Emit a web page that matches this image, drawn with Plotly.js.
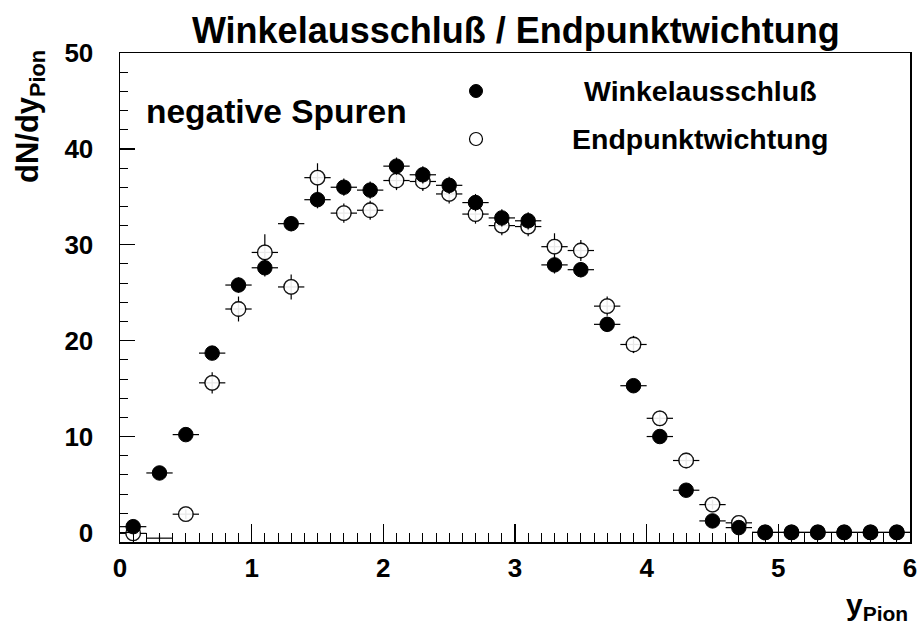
<!DOCTYPE html>
<html>
<head>
<meta charset="utf-8">
<script src="https://cdn.plot.ly/plotly-3.0.1.min.js"></script>
<style>html,body{margin:0;padding:0;background:#fff;}#chart{width:921px;height:627px;}</style>
</head>
<body>
<div id="chart"></div>
<script>
// rapidity bin centres
const yPion = [0.1,0.3,0.5,0.7,0.9,1.1,1.3,1.5,1.7,1.9,2.1,2.3,2.5,2.7,2.9,3.1,3.3,3.5,3.7,3.9,4.1,4.3,4.5,4.7,4.9,5.1,5.3,5.5,5.7,5.9];
// Winkelausschluß (filled)
const winkelVals = [0.6,6.2,10.2,18.7,25.8,27.6,32.2,34.7,36.0,35.7,38.2,37.3,36.2,34.4,32.8,32.5,27.9,27.4,21.7,15.3,10.0,4.4,1.2,0.5,0,0,0,0,0,0];
const winkelErr  = [0.3,0.4,0.5,0.7,0.8,0.9,0.8,0.9,0.9,0.9,0.9,0.9,0.9,0.9,0.9,0.9,0.9,0.8,0.8,0.6,0.5,0.4,0.3,0.2,0,0,0,0,0,0];
// Endpunktwichtung (open)
const endpVals = [-0.1,-0.6,1.9,15.6,23.3,29.2,25.6,37.0,33.3,33.6,36.7,36.6,35.3,33.2,32.0,31.9,29.8,29.4,23.6,19.6,11.9,7.5,2.9,1.0,0,0,0,0,0,0];
const endpErr  = [0.3,0.3,0.5,1.1,1.3,1.9,1.3,1.5,1.0,1.0,1.0,1.0,1.0,1.0,1.0,1.0,1.4,1.1,1.0,0.9,0.8,0.6,0.5,0.4,0,0,0,0,0,0];
const binHalfWidth = 0.1;

const titleText = 'Winkelausschluß / Endpunktwichtung';
const seriesNames = ['Winkelausschluß', 'Endpunktwichtung'];
const labelText = 'negative Spuren';
const xTitle = 'y<sub>Pion</sub>';
const yTitle = 'dN/dy<sub>Pion</sub>';

const FONT = 'Liberation Sans, Arial, Helvetica, sans-serif';
const MS = 14.5;

const errX = {type:'constant', value: binHalfWidth, color:'#000', thickness:1.2, width:0};
const openSizes = endpVals.map(v => v < -0.3 ? 0 : MS);
const openMarker = {symbol:'circle', size: openSizes, color:'#fff', line:{color:'#000', width:1.3}};

const traces = [
  { // open points: error bars
    x: yPion, y: endpVals, type:'scatter', mode:'markers', name: seriesNames[1],
    marker: openMarker,
    error_x: errX,
    error_y: {type:'data', array: endpErr, visible:true, color:'#000', thickness:1.2, width:0},
    showlegend:false
  },
  { // open points: markers on top of their own error bars
    x: yPion, y: endpVals, type:'scatter', mode:'markers', name: seriesNames[1],
    marker: openMarker, showlegend:false
  },
  {
    x: yPion, y: winkelVals, type:'scatter', mode:'markers', name: seriesNames[0],
    marker: {symbol:'circle', size: MS, color:'#000', line:{color:'#000', width:1}},
    error_x: errX,
    error_y: {type:'data', array: winkelErr, visible:true, color:'#000', thickness:1.2, width:0},
    showlegend:false
  }
];

const layout = {
  width: 921, height: 627,
  margin: {l:120, r:11, t:53, b:85},
  paper_bgcolor:'#fff', plot_bgcolor:'#fff',
  font: {family: FONT, color:'#000'},
  showlegend:false,
  title: {text: '<b>' + titleText + '</b>', font:{family:FONT, size:36, color:'#000'},
          xref:'paper', x:0.501, xanchor:'center', yref:'container', y:0.952, yanchor:'middle'},
  xaxis: {
    range:[0,6], dtick:1, tick0:0, ticks:'inside', ticklen:18, tickwidth:1.3, tickcolor:'#000',
    minor:{dtick:0.1, ticks:'inside', ticklen:9, tickwidth:1, tickcolor:'#000', showgrid:false},
    showline:true, linecolor:'#000', linewidth:1.5, mirror:true,
    showgrid:false, zeroline:false,
    tickfont:{family:FONT, size:26, color:'#000', weight:'bold'},
    ticklabelstandoff: 2
  },
  yaxis: {
    range:[-1,50], dtick:10, tick0:0, ticks:'inside', ticklen:15, tickwidth:1.3, tickcolor:'#000',
    minor:{dtick:2, tick0:0, ticks:'inside', ticklen:8, tickwidth:1, tickcolor:'#000', showgrid:false},
    showline:true, linecolor:'#000', linewidth:1.5, mirror:true,
    showgrid:false, zeroline:false,
    tickfont:{family:FONT, size:26, color:'#000', weight:'bold'},
    ticklabelstandoff: 20
  },
  annotations: [
    {text:'<b>' + labelText + '</b>', xref:'paper', yref:'paper', x:0.031, y:0.881, xanchor:'left', yanchor:'middle',
     showarrow:false, font:{family:FONT, size:33.5, color:'#000'}},
    {text:'<b>' + seriesNames[0] + '</b>', xref:'paper', yref:'paper', x:(700-120)/790, y:(542-91)/489, xanchor:'center', yanchor:'middle',
     showarrow:false, font:{family:FONT, size:28.5, color:'#000'}},
    {text:'<b>' + seriesNames[1] + '</b>', xref:'paper', yref:'paper', x:(700-120)/790, y:(542-139)/489, xanchor:'center', yanchor:'middle',
     showarrow:false, font:{family:FONT, size:28.5, color:'#000'}},
    {text:'<b>' + yTitle + '</b>', xref:'paper', yref:'paper', x:(30-120)/790, y:(542-117)/489, xanchor:'center', yanchor:'middle',
     textangle:-90, showarrow:false, font:{family:FONT, size:31, color:'#000'}},
    {text:'<b>' + xTitle + '</b>', xref:'paper', yref:'paper', x:1, y:(542-606)/489, xanchor:'right', yanchor:'middle',
     showarrow:false, font:{family:FONT, size:30, color:'#000'}}
  ],
  shapes: [
    {type:'circle', xref:'paper', yref:'paper', xsizemode:'pixel', ysizemode:'pixel',
     xanchor:(476-120)/790, yanchor:(542-91)/489, x0:-6.5, x1:6.5, y0:-6.5, y1:6.5,
     fillcolor:'#000', line:{color:'#000', width:1}},
    {type:'circle', xref:'paper', yref:'paper', xsizemode:'pixel', ysizemode:'pixel',
     xanchor:(476-120)/790, yanchor:(542-139)/489, x0:-6.5, x1:6.5, y0:-6.5, y1:6.5,
     fillcolor:'#fff', line:{color:'#000', width:1.2}}
  ]
};

Plotly.newPlot('chart', traces, layout, {displayModeBar:false, staticPlot:true});
</script>
</body>
</html>
